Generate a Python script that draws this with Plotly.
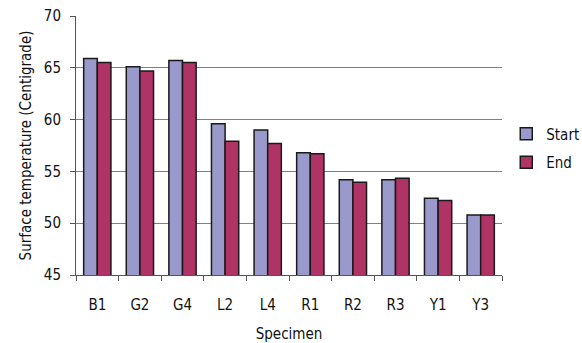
import plotly.graph_objects as go

# Surface temperature of each specimen at the start and end of the test
specimens = ["B1", "G2", "G4", "L2", "L4", "R1", "R2", "R3", "Y1", "Y3"]
start_temp = [65.9, 65.1, 65.7, 59.6, 59.0, 56.8, 54.2, 54.2, 52.4, 50.8]
end_temp = [65.5, 64.7, 65.5, 57.9, 57.7, 56.7, 53.95, 54.35, 52.2, 50.8]

y_ticks = [45, 50, 55, 60, 65, 70]

FONT = "Liberation Sans Narrow, Arial Narrow, DejaVu Sans Condensed, sans-serif"
outline = dict(color="#1a1a1a", width=1.5)

fig = go.Figure()
fig.add_trace(go.Bar(name="Start", x=specimens, y=start_temp,
                     marker=dict(color="#9999CC", line=outline),
                     legendgroup="a"))
fig.add_trace(go.Bar(name="End", x=specimens, y=end_temp,
                     marker=dict(color="#B03366", line=outline),
                     legendgroup="b"))

fig.update_layout(
    width=582, height=343,
    margin=dict(l=76, r=80, t=16, b=68, autoexpand=False),
    paper_bgcolor="white", plot_bgcolor="white",
    font=dict(family=FONT, size=15, color="#111"),
    barmode="group", bargap=0.36, bargroupgap=0.0,
    legend=dict(x=1.01, y=0.49, xanchor="left", yanchor="middle",
                font=dict(size=15), tracegroupgap=6,
                itemwidth=30, bgcolor="rgba(0,0,0,0)"),
    showlegend=True,
)

fig.update_xaxes(
    title=dict(text="Specimen", font=dict(size=15), standoff=21),
    showline=True, linecolor="#555", linewidth=1,
    ticks="outside", tickson="boundaries", ticklen=5, tickcolor="#555",
    ticklabelstandoff=16,
    showgrid=False,
)
fig.update_yaxes(
    title=dict(text="Surface temperature (Centigrade)", font=dict(size=15), standoff=8),
    range=[45, 70], tickvals=y_ticks,
    showline=True, linecolor="#555", linewidth=1,
    ticks="outside", ticklen=5, tickcolor="#555",
    ticklabelstandoff=6,
    showgrid=True, gridcolor="#808080", gridwidth=1,
    zeroline=False,
)

fig.write_html("out.html")
